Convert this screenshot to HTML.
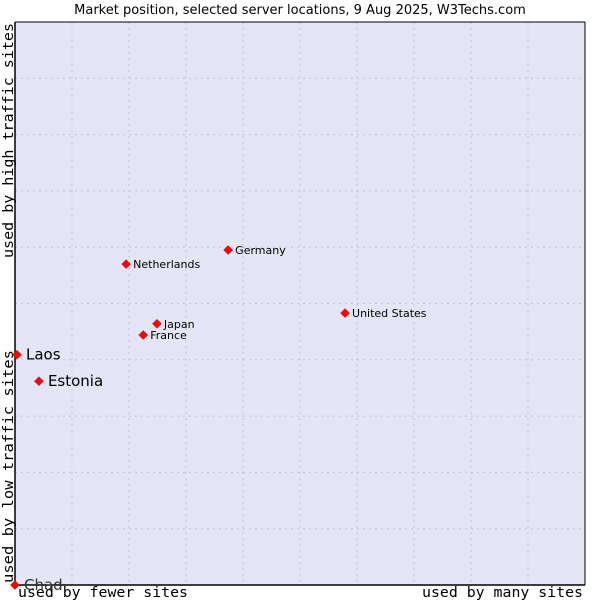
<!DOCTYPE html>
<html><head><meta charset="utf-8"><style>
body{margin:0;background:#fff;font-family:"DejaVu Sans","Liberation Sans",sans-serif}
</style></head><body>
<svg width="600" height="600" xmlns="http://www.w3.org/2000/svg">
<text x="300" y="14" text-anchor="middle" font-size="13" fill="#000" font-family="DejaVu Sans, sans-serif">Market position, selected server locations, 9 Aug 2025, W3Techs.com</text>
<rect x="15" y="22" width="570" height="563" fill="#e4e6f8"/>
<g id="grid"></g>
<line x1="15" y1="22" x2="15" y2="585" stroke="#000" stroke-width="1.5"/>
<line x1="15" y1="585" x2="585" y2="585" stroke="#000" stroke-width="1.5"/>
<line x1="15" y1="22" x2="585" y2="22" stroke="#000" stroke-width="1"/>
<line x1="585" y1="22" x2="585" y2="585" stroke="#000" stroke-width="1"/>
<text x="18" y="597" font-size="14" textLength="170" lengthAdjust="spacingAndGlyphs" font-family="DejaVu Sans Mono, Liberation Mono, monospace">used by fewer sites</text>
<text x="422" y="597" font-size="14" textLength="161" lengthAdjust="spacingAndGlyphs" font-family="DejaVu Sans Mono, Liberation Mono, monospace">used by many sites</text>
<text transform="translate(13,583) rotate(-90)" font-size="14" textLength="233" lengthAdjust="spacingAndGlyphs" font-family="DejaVu Sans Mono, Liberation Mono, monospace">used by low traffic sites</text>
<text transform="translate(13,258) rotate(-90)" font-size="14" textLength="235" lengthAdjust="spacingAndGlyphs" font-family="DejaVu Sans Mono, Liberation Mono, monospace">used by high traffic sites</text>
<g id="points"></g>
</svg>
<script>
const countries=["Chad","Laos","Estonia","Netherlands","Germany","Japan","France","United States"];
const xValues=[0,0.35,4.2,19.5,37.4,24.9,22.5,57.9];
const yValues=[0,40.9,36.2,57.0,59.5,46.4,44.4,48.3];
const bigLabel=[true,true,true,false,false,false,false,false];
const NS="http://www.w3.org/2000/svg";
const X0=15,X1=585,Y0=585,Y1=22;
const sx=v=>X0+(X1-X0)*v/100, sy=v=>Y0-(Y0-Y1)*v/100;
const grid=document.getElementById('grid');
for(let i=1;i<10;i++){
  const v=document.createElementNS(NS,'line');
  
  
  v.setAttribute('x1',sx(i*10));v.setAttribute('x2',sx(i*10));v.setAttribute('y1',Y1);v.setAttribute('y2',Y0);
  v.setAttribute('stroke','#c4c4c8');v.setAttribute('stroke-dasharray','2,4');grid.appendChild(v);
  const h=document.createElementNS(NS,'line');
  
  
  h.setAttribute('y1',sy(i*10));h.setAttribute('y2',sy(i*10));h.setAttribute('x1',X0);h.setAttribute('x2',X1);
  h.setAttribute('stroke','#c4c4c8');h.setAttribute('stroke-dasharray','2,4');grid.appendChild(h);
}
const pts=document.getElementById('points');
countries.forEach((c,i)=>{
  const x=sx(xValues[i]),y=sy(yValues[i]);
  const d=document.createElementNS(NS,'path');
  
  
  d.setAttribute('d',`M${x} ${y-4.5}L${x+4.5} ${y}L${x} ${y+4.5}L${x-4.5} ${y}Z`);
  d.setAttribute('fill','#f00');d.setAttribute('stroke','#c00');d.setAttribute('stroke-width','0.5');
  pts.appendChild(d);
  const t=document.createElementNS(NS,'text');
  
  
  const big=bigLabel[i];
  t.setAttribute('x',x+(big?9:7));t.setAttribute('y',y+(big?5:4));
  t.setAttribute('font-size',big?15:11);
  t.setAttribute('fill',c==="Chad"?'#333':'#000');
  t.textContent=c;pts.appendChild(t);
});
</script>
</body></html>
